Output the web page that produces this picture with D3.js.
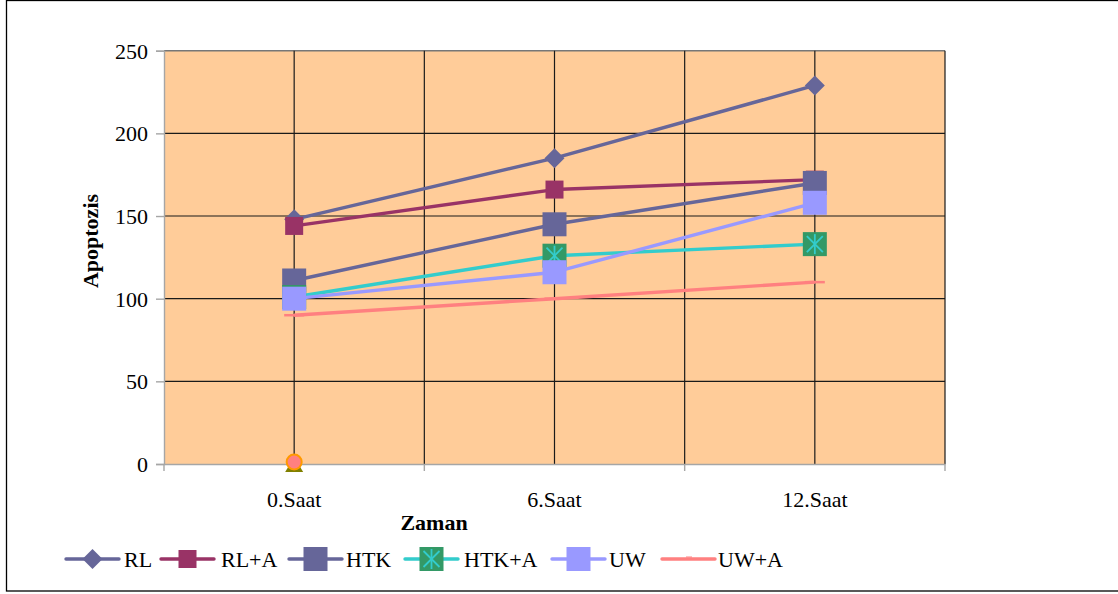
<!DOCTYPE html>
<html>
<head>
<meta charset="utf-8">
<script src="https://cdn.jsdelivr.net/npm/d3@7"></script>
<style>
  html, body { margin: 0; padding: 0; background: #fff; }
  svg { display: block; }
  text { font-family: "Liberation Serif", "Times New Roman", serif; fill: #000; }
</style>
</head>
<body>
<svg id="chart" width="1118" height="594"></svg>
<script>
// Time points and apoptosis counts per group
const categories = ["0.Saat", "6.Saat", "12.Saat"];
const yTicks = [0, 50, 100, 150, 200, 250];

const seriesNames = ["RL", "RL+A", "HTK", "HTK+A", "UW", "UW+A"];
const valuesRL   = [148, 185, 229];
const valuesRLA  = [144, 166, 172];
const valuesHTK  = [111, 145, 170];
const valuesHTKA = [101, 126, 133];
const valuesUW   = [100, 116, 158];
const valuesUWA  = [90, 100, 110];
// two unlabeled single-point series sitting on zero at the first time point
const extraTriangle = [0];
const extraCircle = [0];

const seriesValues = [valuesRL, valuesRLA, valuesHTK, valuesHTKA, valuesUW, valuesUWA];
const lineColors   = ["#666699", "#993366", "#666699", "#33CCCC", "#9999FF", "#FF8080"];
const markerKinds  = ["diamond", "squareSmall", "square", "star", "square", "dash"];

const FONT = "22px";

const svg = d3.select("#chart");

// outer chart frame
svg.append("rect")
  .attr("x", 6.5).attr("y", 0.5).attr("width", 1120).attr("height", 590.5)
  .attr("fill", "none").attr("stroke", "#000").attr("stroke-width", 1.3);

const plot = { left: 164, right: 945, top: 50.7, bottom: 464 };

const x = d3.scaleBand().domain(categories).range([plot.left, plot.right]).padding(0);
const xc = d => x(d) + x.bandwidth() / 2;
const y = d3.scaleLinear().domain([0, 250]).range([plot.bottom, plot.top]);

// plot background
svg.append("rect")
  .attr("x", plot.left).attr("y", plot.top)
  .attr("width", plot.right - plot.left).attr("height", plot.bottom - plot.top)
  .attr("fill", "#FFCC99");

// horizontal gridlines
svg.append("g").selectAll("line").data(yTicks.filter(t => t > 0 && t < 250)).join("line")
  .attr("x1", plot.left).attr("x2", plot.right)
  .attr("y1", d => y(d)).attr("y2", d => y(d))
  .attr("stroke", "#1a1a1a").attr("stroke-width", 1.2);

// top edge of plot
svg.append("line")
  .attr("x1", plot.left).attr("x2", plot.right).attr("y1", y(250)).attr("y2", y(250))
  .attr("stroke", "#777").attr("stroke-width", 1.4);

// vertical gridlines at category centers and boundaries
const vGrid = [];
categories.forEach((c, i) => { vGrid.push(xc(c)); if (i > 0) vGrid.push(x(c)); });
vGrid.push(plot.right);
svg.append("g").selectAll("line").data(vGrid).join("line")
  .attr("x1", d => d).attr("x2", d => d)
  .attr("y1", plot.top).attr("y2", plot.bottom)
  .attr("stroke", "#1a1a1a").attr("stroke-width", 1.2);

// y axis
const yAxis = svg.append("g")
  .attr("transform", `translate(${plot.left},0)`)
  .call(d3.axisLeft(y).tickValues(yTicks).tickSize(8).tickPadding(8));
yAxis.select(".domain").attr("stroke", "#a6a6a6").attr("stroke-width", 1.4);
yAxis.selectAll(".tick line").attr("stroke", "#a6a6a6").attr("stroke-width", 1.4);
yAxis.selectAll(".tick text")
  .style("font-family", "'Liberation Serif', serif").style("font-size", FONT).attr("dy", "0.34em");

// x axis
const xAxis = svg.append("g")
  .attr("transform", `translate(0,${plot.bottom})`)
  .call(d3.axisBottom(x).tickSize(0).tickPadding(27));
xAxis.select(".domain").attr("stroke", "#a6a6a6").attr("stroke-width", 1.4);
xAxis.selectAll(".tick text")
  .style("font-family", "'Liberation Serif', serif").style("font-size", FONT);
const xTickPos = categories.map(c => x(c)).concat([plot.right]);
xAxis.append("g").selectAll("line").data(xTickPos).join("line")
  .attr("x1", d => d).attr("x2", d => d).attr("y1", 0).attr("y2", 7)
  .attr("stroke", "#a6a6a6").attr("stroke-width", 1.4);

// axis titles
svg.append("text")
  .attr("transform", `translate(98,241) rotate(-90)`)
  .attr("text-anchor", "middle")
  .style("font-size", FONT).style("font-weight", "bold")
  .text("Apoptozis");
svg.append("text")
  .attr("x", 434).attr("y", 530).attr("text-anchor", "middle")
  .style("font-size", FONT).style("font-weight", "bold")
  .text("Zaman");

// marker drawing
function drawMarker(g, kind, cx, cy, color) {
  if (kind === "diamond") {
    const r = 10;
    g.append("path").attr("d", `M${cx},${cy - r}L${cx + r},${cy}L${cx},${cy + r}L${cx - r},${cy}Z`)
      .attr("fill", color);
  } else if (kind === "squareSmall") {
    g.append("rect").attr("x", cx - 9).attr("y", cy - 9).attr("width", 18).attr("height", 18)
      .attr("fill", color);
  } else if (kind === "square") {
    g.append("rect").attr("x", cx - 12).attr("y", cy - 12).attr("width", 24).attr("height", 24)
      .attr("fill", color);
  } else if (kind === "star") {
    g.append("rect").attr("x", cx - 12).attr("y", cy - 12).attr("width", 24).attr("height", 24)
      .attr("fill", "#339966");
    const s = 8;
    const p = g.append("g").attr("stroke", color).attr("stroke-width", 1.8);
    p.append("line").attr("x1", cx - s).attr("y1", cy - s).attr("x2", cx + s).attr("y2", cy + s);
    p.append("line").attr("x1", cx + s).attr("y1", cy - s).attr("x2", cx - s).attr("y2", cy + s);
    p.append("line").attr("x1", cx).attr("y1", cy - 10).attr("x2", cx).attr("y2", cy + 10);
  } else if (kind === "dash") {
    g.append("line").attr("x1", cx - 10).attr("x2", cx + 10).attr("y1", cy).attr("y2", cy)
      .attr("stroke", color).attr("stroke-width", 2.5);
  }
}

const line = d3.line().x((d, i) => xc(categories[i])).y(d => y(d));

const seriesG = svg.append("g");
seriesValues.forEach((vals, si) => {
  const g = seriesG.append("g");
  g.append("path").datum(vals).attr("d", line)
    .attr("fill", "none").attr("stroke", lineColors[si]).attr("stroke-width", 3.4)
    .attr("stroke-linejoin", "round");
  vals.forEach((v, i) => drawMarker(g, markerKinds[si], xc(categories[i]), y(v), lineColors[si]));
});

// single-point series at zero
extraTriangle.forEach((v, i) => {
  const cx = xc(categories[i]), cy = y(v);
  svg.append("path")
    .attr("d", `M${cx},${cy - 7}L${cx + 9},${cy + 8}L${cx - 9},${cy + 8}Z`)
    .attr("fill", "#808000");
});
extraCircle.forEach((v, i) => {
  svg.append("circle").attr("cx", xc(categories[i])).attr("cy", y(v) - 2).attr("r", 7.5)
    .attr("fill", "#FF8080").attr("stroke", "#FF9900").attr("stroke-width", 2);
});

// legend
const legendItems = [
  { x0: 66, text: 124 }, { x0: 161, text: 221 }, { x0: 289, text: 346 },
  { x0: 405, text: 464 }, { x0: 552, text: 609 }, { x0: 662, text: 718 }
];
const legendY = 559;
const legend = svg.append("g");
seriesNames.forEach((name, si) => {
  const it = legendItems[si];
  const g = legend.append("g");
  g.append("line").attr("x1", it.x0).attr("x2", it.x0 + 53).attr("y1", legendY).attr("y2", legendY)
    .attr("stroke", lineColors[si]).attr("stroke-width", 3.4).attr("stroke-linecap", "round");
  const kind = markerKinds[si] === "dash" ? "tick" : markerKinds[si];
  if (kind === "tick") {
    g.append("line").attr("x1", it.x0 + 24).attr("x2", it.x0 + 30).attr("y1", legendY - 2).attr("y2", legendY - 2)
      .attr("stroke", lineColors[si]).attr("stroke-width", 1);
  } else {
    drawMarker(g, kind, it.x0 + 26.5, legendY, lineColors[si]);
  }
  g.append("text").attr("x", it.text).attr("y", legendY + 7.5)
    .style("font-size", FONT).text(name);
});
</script>
</body>
</html>
